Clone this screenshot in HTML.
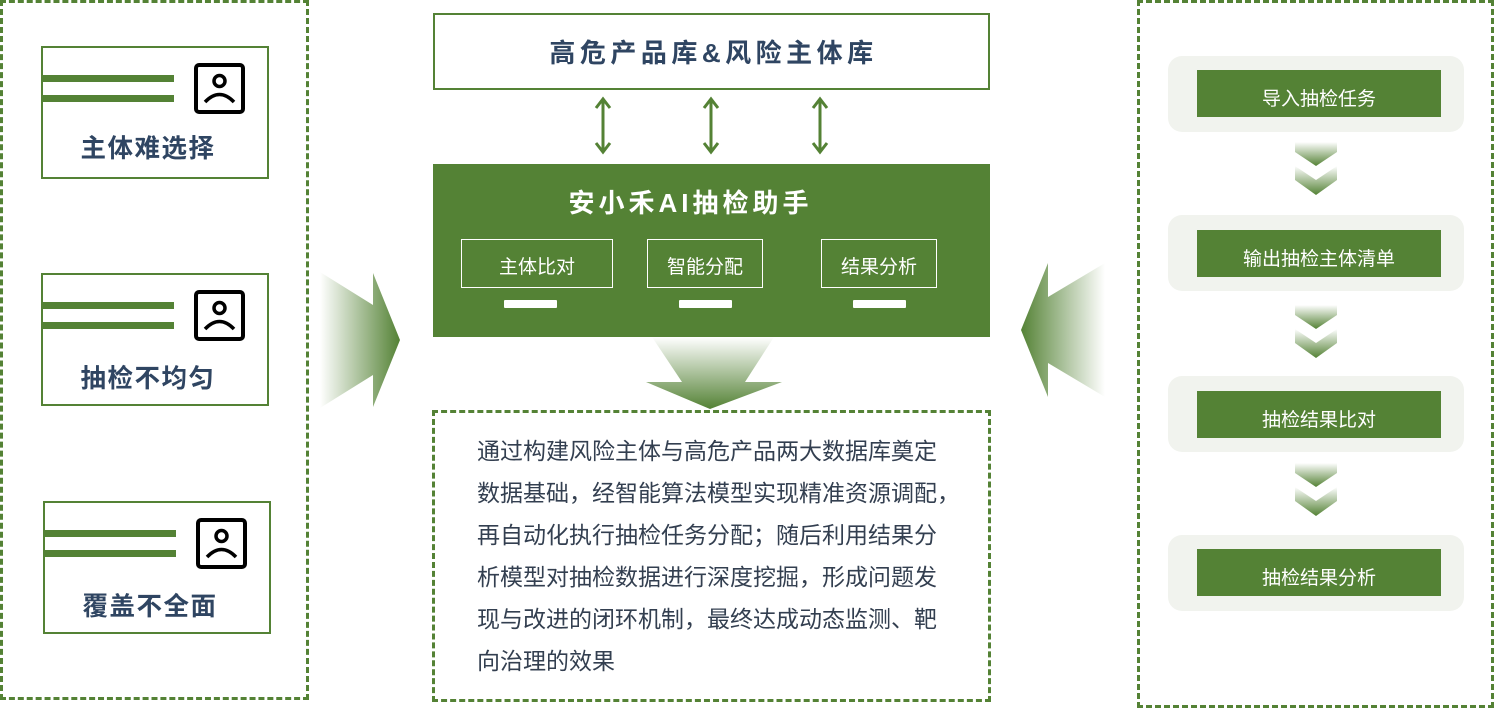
<!DOCTYPE html>
<html><head><meta charset="utf-8"><style>
body{margin:0;width:1506px;height:708px;position:relative;background:#fff;overflow:hidden;font-family:"Liberation Sans","Noto Sans CJK SC",sans-serif}
.a{position:absolute;box-sizing:border-box}
.dash{border:3px dashed #548235}
.card{border:2px solid #548235;background:#fff}
.bar{position:absolute;left:0;width:131px;height:7px;background:#548235}
.icon{position:absolute;width:51px;height:51px;border:4px solid #000;border-radius:5px;box-sizing:border-box}
.lbl{position:absolute;left:0;right:14px;text-align:center;font-weight:bold;font-size:25.5px;color:#2f4562;letter-spacing:1.5px}
.sub{border:1px solid #fff;color:#fff;font-size:19px;text-align:center}
.wb{background:#fff;height:8px;width:53px;border-radius:1px}
.pan{background:#f1f3ee;border-radius:14px;width:296px;height:76px;left:1168px}
.inn{background:#548235;color:#fff;font-size:19px;text-align:center;width:244px;height:47px;line-height:60px;left:1197px}
.txt{position:absolute;left:477px;font-size:23px;letter-spacing:0px;color:#333f50;white-space:nowrap}
</style></head><body>
<div class="a dash" style="left:0;top:0;width:309px;height:700px"></div>
<div class="a dash" style="left:1137px;top:0;width:357px;height:708px"></div>
<div class="a dash" style="left:432px;top:410px;width:559px;height:292px"></div>

<div class="a card" style="left:41px;top:46px;width:228px;height:133px">
<div class="bar" style="top:27px"></div><div class="bar" style="top:47px"></div>
<div class="icon" style="left:151px;top:15px"><svg width="43" height="43" style="position:absolute;left:0;top:0"><circle cx="21.5" cy="14" r="5.5" fill="none" stroke="#000" stroke-width="3.5"/><path d="M7 35 Q21.5 20 36 35" fill="none" stroke="#000" stroke-width="3.5"/></svg></div>
<div class="lbl" style="top:80px">主体难选择</div></div>
<div class="a card" style="left:41px;top:273px;width:228px;height:133px">
<div class="bar" style="top:27px"></div><div class="bar" style="top:47px"></div>
<div class="icon" style="left:151px;top:15px"><svg width="43" height="43" style="position:absolute;left:0;top:0"><circle cx="21.5" cy="14" r="5.5" fill="none" stroke="#000" stroke-width="3.5"/><path d="M7 35 Q21.5 20 36 35" fill="none" stroke="#000" stroke-width="3.5"/></svg></div>
<div class="lbl" style="top:83px">抽检不均匀</div></div>
<div class="a card" style="left:43px;top:501px;width:228px;height:133px">
<div class="bar" style="top:27px"></div><div class="bar" style="top:47px"></div>
<div class="icon" style="left:151px;top:15px"><svg width="43" height="43" style="position:absolute;left:0;top:0"><circle cx="21.5" cy="14" r="5.5" fill="none" stroke="#000" stroke-width="3.5"/><path d="M7 35 Q21.5 20 36 35" fill="none" stroke="#000" stroke-width="3.5"/></svg></div>
<div class="lbl" style="top:83px">覆盖不全面</div></div>

<div class="a" style="left:433px;top:13px;width:557px;height:77px;border:2px solid #548235;text-align:center;line-height:76px;font-size:26px;font-weight:bold;color:#2f4562;letter-spacing:4.5px;padding-left:4px">高危产品库&amp;风险主体库</div>

<svg class="a" style="left:0;top:0" width="1506" height="708">
<defs>
<linearGradient id="gl" x1="0" x2="1" y1="0" y2="0"><stop offset="0" stop-color="#548235" stop-opacity="0"/><stop offset="1" stop-color="#548235"/></linearGradient>
<linearGradient id="gr" x1="1" x2="0" y1="0" y2="0"><stop offset="0" stop-color="#548235" stop-opacity="0"/><stop offset="1" stop-color="#548235"/></linearGradient>
<linearGradient id="gd" x1="0" x2="0" y1="0" y2="1"><stop offset="0" stop-color="#548235" stop-opacity="0"/><stop offset="1" stop-color="#548235"/></linearGradient>
</defs>
<g stroke="#548235" stroke-width="3" fill="none">
<path d="M603 100V151M596 108L603 99L610 108M596 143L603 152L610 143"/>
<path d="M711 100V151M704 108L711 99L718 108M704 143L711 152L718 143"/>
<path d="M820 100V151M813 108L820 99L827 108M813 143L820 152L827 143"/>
</g>
<polygon points="320,272 373,305 373,273 400,340 373,407 373,375 320,408" fill="url(#gl)"/>
<polygon points="1105,263 1048,297 1048,263 1021,330 1048,397 1048,363 1105,397" fill="url(#gr)"/>
<polygon points="652,337 774,337 745,382 782,382 710,409 646,382 682,382" fill="url(#gd)"/>
<g fill="url(#gd)">
<polygon points="1295,142 1337,142 1337,152 1316,166 1295,152"/>
<polygon points="1295,166 1316,180 1337,166 1337,180 1316,195 1295,180"/>
<polygon points="1295,305 1337,305 1337,315 1316,329 1295,315"/>
<polygon points="1295,329 1316,343 1337,329 1337,343 1316,358 1295,343"/>
<polygon points="1295,463 1337,463 1337,473 1316,487 1295,473"/>
<polygon points="1295,487 1316,501 1337,487 1337,501 1316,516 1295,501"/>
</g>
</svg>

<div class="a" style="left:433px;top:164px;width:557px;height:173px;background:#548235">
<div style="position:absolute;left:0;right:42px;top:19px;text-align:center;color:#fff;font-weight:bold;font-size:26px;letter-spacing:4px">安小禾AI抽检助手</div>
</div>
<div class="a sub" style="left:461px;top:239px;width:152px;height:49px;line-height:56px">主体比对</div>
<div class="a sub" style="left:647px;top:239px;width:116px;height:49px;line-height:56px">智能分配</div>
<div class="a sub" style="left:821px;top:239px;width:116px;height:49px;line-height:56px">结果分析</div>
<div class="a wb" style="left:504px;top:300px"></div>
<div class="a wb" style="left:679px;top:300px"></div>
<div class="a wb" style="left:853px;top:300px"></div>

<div class="a pan" style="top:56px"></div><div class="a inn" style="top:70px">导入抽检任务</div>
<div class="a pan" style="top:215px"></div><div class="a inn" style="top:230px">输出抽检主体清单</div>
<div class="a pan" style="top:376px"></div><div class="a inn" style="top:391px">抽检结果比对</div>
<div class="a pan" style="top:535px"></div><div class="a inn" style="top:549px">抽检结果分析</div>

<div class="txt" style="top:432px">通过构建风险主体与高危产品两大数据库奠定</div>
<div class="txt" style="top:474px">数据基础，经智能算法模型实现精准资源调配，</div>
<div class="txt" style="top:516px">再自动化执行抽检任务分配；随后利用结果分</div>
<div class="txt" style="top:558px">析模型对抽检数据进行深度挖掘，形成问题发</div>
<div class="txt" style="top:600px">现与改进的闭环机制，最终达成动态监测、靶</div>
<div class="txt" style="top:642px">向治理的效果</div>
</body></html>
